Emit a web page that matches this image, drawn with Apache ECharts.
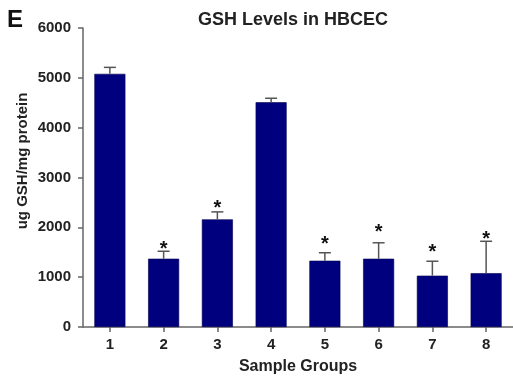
<!DOCTYPE html>
<html>
<head>
<meta charset="utf-8">
<script src="https://cdn.jsdelivr.net/npm/echarts@6/dist/echarts.min.js"></script>
<style>
html,body{margin:0;padding:0;background:#fff;}
#chart{width:513px;height:381px;}
</style>
</head>
<body>
<div id="chart"></div>
<script>
var categories = ['1','2','3','4','5','6','7','8'];
var gshMeans = [5080, 1370, 2160, 4510, 1330, 1370, 1030, 1080];
var gshErrors = [130, 150, 150, 80, 160, 320, 290, 640];
var significant = [false, true, true, false, true, true, true, true];
var starValues = [null, 1660, 2480, null, 1760, 2000, 1600, 1860];
var yTicks = [0, 1000, 2000, 3000, 4000, 5000, 6000];

var FONT = 'Liberation Sans, Arial, sans-serif';
var chart = echarts.init(document.getElementById('chart'));

var errData = gshMeans.map(function (v, i) { return [i, v, v + gshErrors[i]]; });
var starData = [];
starValues.forEach(function (v, i) { if (significant[i] && v != null) starData.push([i, v]); });

chart.setOption({
  animation: false,
  backgroundColor: '#fff',
  title: {
    text: 'GSH Levels in HBCEC',
    left: 288, top: 6, textAlign: 'center',
    textStyle: { fontFamily: FONT, fontWeight: 'bold', fontSize: 18, color: '#222' }
  },
  graphic: [
    { type: 'text', left: 7, top: 8, style: { text: 'E', font: 'bold 24px ' + FONT, fill: '#111' } },
    { type: 'text', x: 23, y: 161, rotation: Math.PI / 2,
      style: { text: 'ug GSH/mg protein', font: 'bold 15px ' + FONT, fill: '#222', align: 'center', verticalAlign: 'middle' } }
  ],
  grid: { left: 83, top: 28, width: 431, height: 299, containLabel: false },
  xAxis: {
    type: 'category',
    data: categories,
    axisLine: { show: true, lineStyle: { color: '#666', width: 1.5 } },
    axisTick: { show: true, alignWithLabel: true, length: 5, lineStyle: { color: '#666', width: 1.5 } },
    axisLabel: { margin: 10, fontFamily: FONT, fontWeight: 'bold', fontSize: 15, color: '#222' },
    name: 'Sample Groups', nameLocation: 'middle', nameGap: 32,
    nameTextStyle: { fontFamily: FONT, fontWeight: 'bold', fontSize: 16, color: '#222', verticalAlign: 'top' }
  },
  yAxis: {
    type: 'value', min: 0, max: 6000, interval: 1000,
    axisLine: { show: true, lineStyle: { color: '#666', width: 1.5 } },
    axisTick: { show: true, length: 5, lineStyle: { color: '#666', width: 1.5 } },
    splitLine: { show: false },
    axisLabel: { margin: 12, fontFamily: FONT, fontWeight: 'bold', fontSize: 15, color: '#222',
      formatter: function (v) { return yTicks.indexOf(v) >= 0 ? String(v) : ''; } }
  },
  series: [
    {
      type: 'bar', data: gshMeans, barWidth: 31,
      itemStyle: { color: '#00007f', borderColor: '#000050', borderWidth: 0.6 },
      z: 2
    },
    {
      type: 'custom', z: 3,
      data: errData,
      renderItem: function (params, api) {
        var base = api.coord([api.value(0), api.value(1)]);
        var top = api.coord([api.value(0), api.value(2)]);
        var hw = 6;
        var st = { stroke: '#555', lineWidth: 1.5 };
        return { type: 'group', children: [
          { type: 'line', shape: { x1: base[0], y1: base[1], x2: top[0], y2: top[1] }, style: st },
          { type: 'line', shape: { x1: top[0] - hw, y1: top[1], x2: top[0] + hw, y2: top[1] }, style: st }
        ] };
      }
    },
    {
      type: 'custom', z: 4,
      data: starData,
      renderItem: function (params, api) {
        var p = api.coord([api.value(0), api.value(1)]);
        return { type: 'text', x: p[0], y: p[1] + 5,
          style: { text: '*', font: 'bold 20px ' + FONT, fill: '#111', align: 'center', verticalAlign: 'middle' } };
      }
    }
  ]
});
</script>
</body>
</html>
